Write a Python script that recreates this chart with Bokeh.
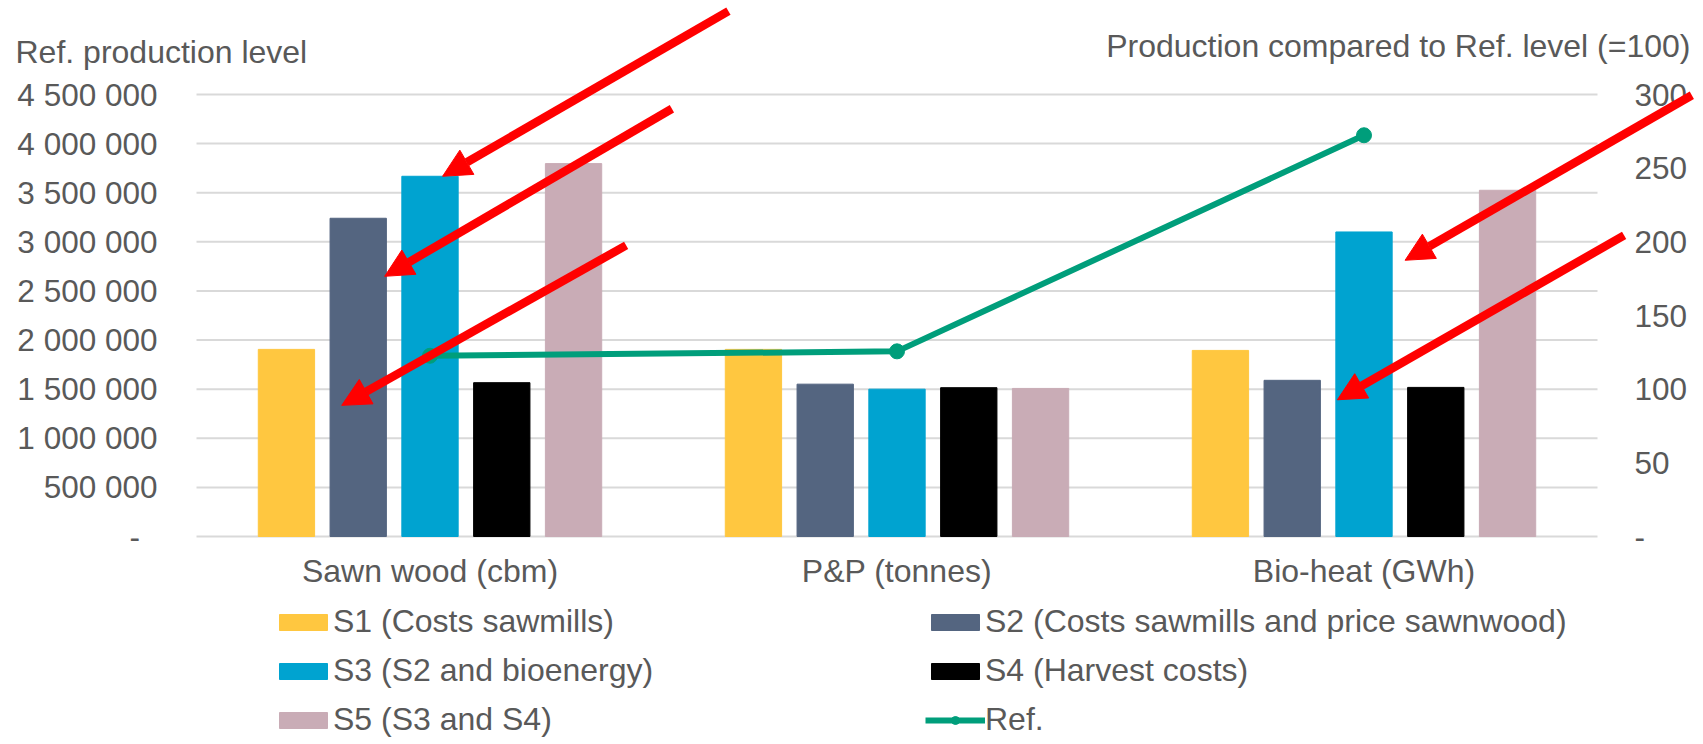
from bokeh.plotting import figure
from bokeh.models import (Range1d, Legend, LegendItem, Arrow, NormalHead,
                          ColumnDataSource)
from bokeh.core.properties import value
from bokeh.transform import dodge
from bokeh.embed import file_html
from bokeh.resources import INLINE

# ---------------- data ----------------
categories = ["Sawn wood (cbm)", "P&P (tonnes)", "Bio-heat (GWh)"]
series_names = ["S1 (Costs sawmills)",
                "S2 (Costs sawmills and price sawnwood)",
                "S3 (S2 and bioenergy)",
                "S4 (Harvest costs)",
                "S5 (S3 and S4)"]
s1 = [127.0, 127.0, 126.3]
s2 = [216.0, 103.4, 106.0]
s3 = [244.5, 100.0, 206.7]
s4 = [104.4, 101.0, 101.2]
s5 = [253.1, 100.5, 235.0]
ref_name = "Ref."
ref_level = [1840000, 1885000, 4085000]
left_ticks = [0, 500000, 1000000, 1500000, 2000000, 2500000, 3000000,
              3500000, 4000000, 4500000]
right_ticks = [0, 50, 100, 150, 200, 250, 300]
left_title = "Ref. production level"
right_title = "Production compared to Ref. level (=100)"
# red arrows (annotations): tail x, tail y, tip x, tip y  (x: category index, y: right axis)
arrows = [
    (0.639, 356.6, 0.027, 244.5),
    (0.518, 290.3, -0.097, 176.6),
    (0.420, 197.6, -0.189, 89.0),
    (2.702, 299.5, 2.088, 187.5),
    (2.557, 204.4, 1.943, 92.8),
]

# ---------------- styling / layout ----------------
colors = ["#FFC740", "#546580", "#00A3D0", "#000000", "#C9ACB6"]
ref_color = "#009E7B"
text_color = "#595959"
grid_color = "#D9D9D9"
FONT = "Liberation Sans"
FS_TICK = "31.5px"
FS_TEXT = "32px"

W, H = 1703, 744
PL, PR, PT, PB = 196, 1597, 94, 536          # plot-area box in pixels
n = len(categories)
x_lo, x_hi = -0.5, n - 0.5
L_MAX = left_ticks[-1]
R_MAX = right_ticks[-1]

sx = (x_hi - x_lo) / (PR - PL)
syl = L_MAX / (PB - PT)
syr = R_MAX / (PB - PT)

p = figure(width=W, height=H, title=None,
           x_range=Range1d(x_lo - PL * sx, x_hi + (W - PR) * sx),
           y_range=Range1d(-(H - PB) * syl, L_MAX + PT * syl),
           x_axis_type=None, y_axis_type=None,
           toolbar_location=None, output_backend="svg",
           min_border=0)
p.extra_y_ranges = {"right": Range1d(-(H - PB) * syr, R_MAX + PT * syr)}
p.outline_line_color = None
p.grid.visible = False
p.background_fill_color = "white"
p.border_fill_color = "white"

x_idx = list(range(n))
src = ColumnDataSource(dict(x=x_idx, s1=s1, s2=s2, s3=s3, s4=s4, s5=s5,
                            ref=ref_level, cat=categories))

# gridlines (left-axis ticks)
p.segment(x0=x_lo, x1=x_hi, y0=left_ticks, y1=left_ticks,
          line_color=grid_color, line_width=2)

# left tick labels
left_labels = ["-\u00a0\u00a0" if t == 0 else f"{t:,}".replace(",", " ") for t in left_ticks]
p.text(x=x_lo, y=left_ticks, text=left_labels, x_offset=-39,
       text_align="right", text_baseline="middle",
       text_font=value(FONT), text_font_size=FS_TICK, text_color=text_color)
# right tick labels
right_labels = ["-" if t == 0 else str(t) for t in right_ticks]
p.text(x=x_hi, y=right_ticks, text=right_labels, x_offset=37,
       text_align="left", text_baseline="middle", y_range_name="right",
       text_font=value(FONT), text_font_size=FS_TICK, text_color=text_color)
# category labels
p.text(x="x", y=0, text="cat", source=src, y_offset=16,
       text_align="center", text_baseline="top",
       text_font=value(FONT), text_font_size=FS_TEXT, text_color=text_color)
# axis titles
p.text(x=[x_lo], y=[L_MAX], text=[left_title], x_offset=-181, y_offset=-43,
       text_align="left", text_baseline="alphabetic",
       text_font=value(FONT), text_font_size=FS_TEXT, text_color=text_color)
p.text(x=[x_hi], y=[R_MAX], text=[right_title], x_offset=93, y_offset=-49,
       text_align="right", text_baseline="alphabetic", y_range_name="right",
       text_font=value(FONT), text_font_size=FS_TEXT, text_color=text_color)

# bars
pitch = 0.1537
bar_w = 0.1206
fields = ["s1", "s2", "s3", "s4", "s5"]
bar_renderers = []
for i, (f, c) in enumerate(zip(fields, colors)):
    r = p.vbar(x=dodge("x", (i - 2) * pitch, range=p.x_range), top=f, bottom=0,
               width=bar_w, source=src, fill_color=c, line_color=c,
               line_width=1, y_range_name="right")
    bar_renderers.append(r)

# ref line
lr = p.line(x="x", y="ref", source=src, line_color=ref_color, line_width=6)
sr = p.scatter(x="x", y="ref", source=src, size=15, fill_color=ref_color,
               line_color=ref_color)

# arrows
for (xs, ys, xe, ye) in arrows:
    p.add_layout(Arrow(x_start=xs, y_start=ys, x_end=xe, y_end=ye,
                       start=None,
                       end=NormalHead(size=28, fill_color="#FF0000",
                                      line_color="#FF0000", line_width=1),
                       line_color="#FF0000", line_width=8.5,
                       y_range_name="right"))

# legend
items = [LegendItem(label=nm, renderers=[r]) for nm, r in zip(series_names, bar_renderers)]
items.append(LegendItem(label=ref_name, renderers=[lr, sr]))
legend = Legend(items=items, location=(273, 6), orientation="horizontal", ncols=2,
                glyph_width=60, glyph_height=20, label_standoff=0,
                label_width=580, label_height=36, spacing=12, padding=0, margin=0,
                label_text_font=FONT, label_text_font_size=FS_TEXT,
                label_text_color=text_color, border_line_color=None,
                background_fill_alpha=0)
p.add_layout(legend, "center")

open("out.html", "w").write(file_html(p, INLINE))
